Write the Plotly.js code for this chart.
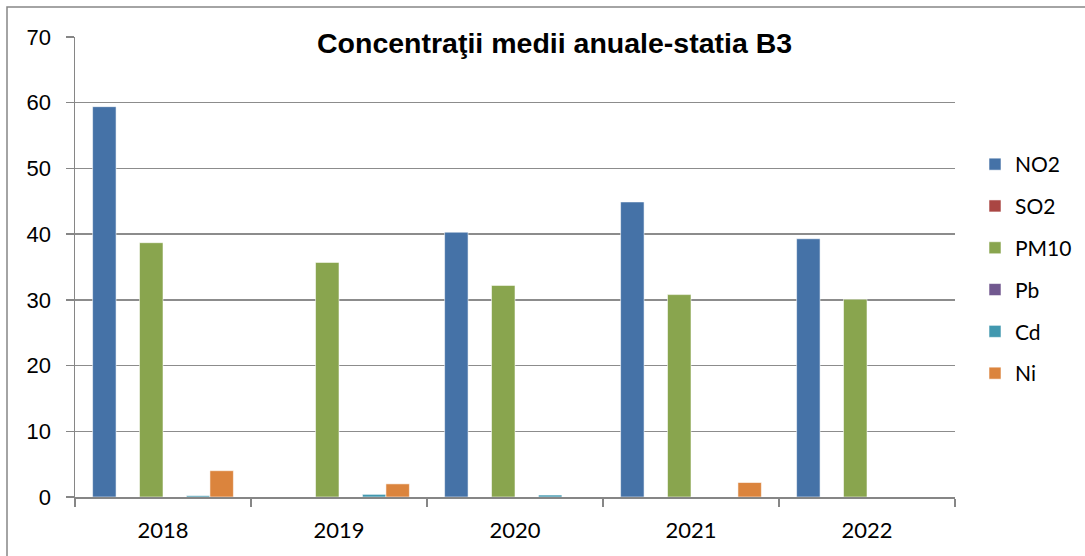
<!DOCTYPE html>
<html>
<head>
<meta charset="utf-8">
<script src="https://cdn.plot.ly/plotly-3.0.1.min.js"></script>
<style>
html,body{margin:0;padding:0;background:#fff;}
#chart{width:1085px;height:556px;}
</style>
</head>
<body>
<div id="chart"></div>
<script>
var years = ['2018', '2019', '2020', '2021', '2022'];
var NO2 = [59.4, null, 40.3, 44.9, 39.3];
var SO2 = [null, null, null, null, null];
var PM10 = [38.7, 35.7, 32.2, 30.8, 30.1];
var Pb = [null, null, null, null, null];
var Cd = [0.2, 0.4, 0.3, null, null];
var Ni = [4.0, 2.0, null, 2.2, null];
var seriesNames = ['NO2', 'SO2', 'PM10', 'Pb', 'Cd', 'Ni'];
var seriesValues = [NO2, SO2, PM10, Pb, Cd, Ni];
var seriesColors = ['#4572A7', '#AA4643', '#89A54E', '#71588F', '#4198AF', '#DB843D'];
var yTicks = [0, 10, 20, 30, 40, 50, 60, 70];
var titleText = 'Concentraţii medii anuale-statia B3';

var traces = seriesNames.map(function (n, i) {
  return {
    type: 'bar',
    name: n,
    x: years,
    y: seriesValues[i],
    legendgroup: n,
    marker: {color: seriesColors[i], line: {color: 'rgba(255,255,255,0.55)', width: 1}},
    hoverinfo: 'x+y+name'
  };
});

var gray = '#868686';
var layout = {
  width: 1085,
  height: 556,
  margin: {l: 75, r: 130, t: 37, b: 59},
  paper_bgcolor: '#ffffff',
  plot_bgcolor: '#ffffff',
  barmode: 'group',
  bargap: 0.2,
  bargroupgap: 0,
  showlegend: true,
  legend: {
    xref: 'container', yref: 'container',
    x: 975 / 1085, xanchor: 'left',
    y: 1 - 144 / 556, yanchor: 'top',
    font: {family: 'Lato, "Open Sans", sans-serif', size: 21, color: '#000'},
    traceorder: 'grouped',
    tracegroupgap: 11.5,
    bgcolor: 'rgba(0,0,0,0)'
  },
  xaxis: {
    type: 'category',
    tickson: 'boundaries',
    ticks: 'outside',
    ticklen: 8,
    tickwidth: 1.5,
    tickcolor: gray,
    showline: true,
    linecolor: gray,
    linewidth: 1.5,
    showgrid: false,
    tickfont: {family: 'Lato, "Open Sans", sans-serif', size: 22, color: '#000'},
    ticklabelstandoff: 13,
    fixedrange: true
  },
  yaxis: {
    range: [0, 70],
    tickvals: yTicks,
    ticktext: yTicks.map(String),
    ticks: 'outside',
    ticklen: 8,
    tickwidth: 1.5,
    tickcolor: gray,
    showline: true,
    linecolor: gray,
    linewidth: 1.5,
    showgrid: true,
    gridcolor: '#8c8c8c',
    gridwidth: 1.5,
    zeroline: false,
    tickfont: {family: '"Liberation Sans", Arial, sans-serif', size: 22, color: '#000'},
    ticklabelstandoff: 10,
    fixedrange: true
  },
  annotations: [{
    text: '<b>' + titleText + '</b>',
    xref: 'paper', yref: 'paper',
    x: (554 - 75) / 880, y: (497 - 43) / 460,
    xanchor: 'center', yanchor: 'middle',
    showarrow: false,
    font: {family: '"Liberation Sans", Arial, sans-serif', size: 28.5, color: '#000'}
  }],
  shapes: [{
    type: 'rect',
    xref: 'paper', yref: 'paper',
    x0: (7 - 75) / 880, x1: (1100 - 75) / 880,
    y0: (497 - 575) / 460, y1: (497 - 7) / 460,
    line: {color: gray, width: 1.5},
    fillcolor: 'rgba(0,0,0,0)',
    layer: 'below'
  }]
};

Plotly.newPlot('chart', traces, layout, {displayModeBar: false, staticPlot: true});
</script>
</body>
</html>
